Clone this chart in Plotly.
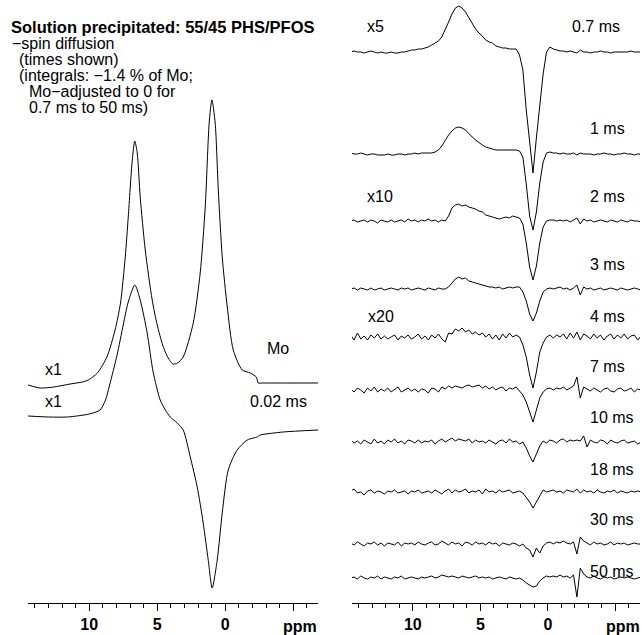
import plotly.graph_objects as go

# ---------------- Left panel data (ppm, intensity) ----------------
mo_ppm = [14.5, 13.6, 12.6, 11.4, 10.5, 10.07, 9.4, 8.7, 8.1, 7.7, 7.35, 7.13, 6.84, 6.65, 6.47,
          6.25, 5.88, 5.37, 5.0, 4.6, 4.27, 3.85, 3.5, 3.09, 2.35, 1.84, 1.47, 1.18, 0.98, 0.74,
          0.51, 0.22, -0.15, -0.59, -1.25, -1.84, -2.28, -2.43, -2.7, -4.5, -6.82]
mo_int = [-2, -5, -4, -1, 1, 3, 10, 26, 53, 80, 126, 166, 222, 242, 230,
          186, 133, 83, 58, 38, 27, 19, 20, 26, 60, 110, 176, 260, 283, 260,
          193, 126, 76, 33, 13, 10, 6, 0, 0, 0, 0]

p002_ppm = [14.5, 13.0, 11.6, 10.0, 9.2, 8.8, 8.5, 7.95, 7.5, 7.13, 6.65, 6.25, 5.74, 5.3,
            4.78, 4.4, 4.04, 3.53, 3.09, 2.57, 2.06, 1.62, 1.25, 0.96, 0.59, 0.22, -0.22,
            -0.88, -1.62, -2.35, -2.45, -2.57, -4.26, -6.82]
p002_int = [14, 13, 13, 16, 20, 30, 45, 75, 105, 128, 145, 130, 97, 58,
            30, 20, 13, 7, 0, -27, -57, -93, -130, -158, -130, -83, -40,
            -20, -10, -7, -6, -5, -2, 0]

left_names = ["Mo", "0.02 ms"]
left_offsets = [220, 173]

# ---------------- Right panel data (regular ppm grid) ----------------
grid_ppm = [round(14.6 - 0.25 * i, 2) for i in range(87)]

times = ["0.7 ms", "1 ms", "2 ms", "3 ms", "4 ms", "7 ms", "10 ms", "18 ms", "30 ms", "50 ms"]

s_07 = [0, 1, 0, 0, -1, 0, 1, 0, -1, 0,
        -1, -1, 0, -1, -1, 0, 0, 1, 2, 2,
        3, 3, 4, 5, 7, 9, 11, 15, 22, 30,
        38, 44, 46, 44, 40, 34, 28, 23, 19, 16,
        12, 10, 9, 6, 5, 4, 4, 3, 3, 3,
        -3, -18, -58, -93, -121, -86, -56, -22, 0, 5,
        3, 2, 1, 1, 0, 1, 0, -1, 2, 0,
        0, -1, 0, 0, 1, 0, 0, -1, 0, 0,
        0, 0, 0, 1, 0, 0, 0]
s_1 = [1, 0, 0, 1, 0, -1, 0, 0, -1, -1,
       -1, 0, -1, -1, 0, 0, -1, 0, 0, 1,
       0, 1, 1, 1, 1, 2, 4, 8, 14, 19,
       23, 26, 27, 26, 24, 21, 17, 14, 11, 9,
       7, 6, 5, 4, 4, 4, 4, 4, 4, 4,
       3, -3, -30, -62, -76, -58, -29, -8, 1, 2,
       1, 1, 0, 1, 0, 0, 1, -1, 1, 0,
       0, 0, -1, 0, 0, 1, 0, 0, -1, 0,
       0, 1, 0, 0, -1, 0, 0]
s_2 = [0, 1, -1, 0, 1, -1, 1, 0, -2, 1,
       0, -1, 1, -1, 0, 1, -1, 2, 0, 1,
       -1, 1, 0, 2, 0, 1, -1, 1, 0, 5,
       13, 16, 17, 15, 16, 14, 13, 12, 10, 9,
       6, 5, 4, 3, 2, 3, 4, 3, 5, 4,
       3, -3, -22, -46, -59, -45, -22, -6, 0, 1,
       1, 0, 1, 0, 1, -1, 1, 3, -3, 2,
       0, 1, -1, 0, 1, 0, -1, 1, 0, -1,
       1, 0, -1, 1, 0, 0, -1]
s_3 = [0, 1, -1, 1, 0, -1, 1, -1, 0, 1,
       -1, 0, 1, 0, -1, 1, 0, 1, -1, 0,
       1, 0, -1, 1, 0, -1, 1, 0, 0, 2,
       6, 10, 12, 10, 11, 8, 7, 6, 5, 4,
       3, 2, 2, 1, 2, 0, 1, 2, 1, 2,
       2, -3, -12, -25, -32, -24, -12, -3, 0, 1,
       0, 1, 2, 0, 1, -1, 1, 4, -6, 2,
       0, 1, -1, 0, 1, -1, 0, 1, 0, -1,
       1, 0, -1, 0, 1, 0, -1]
s_4 = [2, -3, 4, -2, 1, -3, 2, -1, 3, -2,
       1, -2, 0, 2, -3, 1, -1, 2, -2, 0,
       3, -2, 1, -3, 2, -1, 3, -2, -5, 4,
       3, 8, 6, 9, 5, 7, 3, 5, 2, 4,
       0, 3, -2, 2, -3, 3, -1, 4, 0, 2,
       0, -8, -20, -38, -51, -35, -15, -6, 0, 2,
       -1, 2, 0, 3, -2, 4, -1, 5, -3, 3,
       1, -2, 3, -1, 2, -3, 1, 3, -2, 2,
       -1, 3, -2, 1, 2, -3, 1]
s_7 = [1, -2, 2, 0, -3, 2, -1, 3, -2, 1,
       -1, 2, -2, 1, 3, -2, 0, 2, -1, 1,
       -2, 1, 0, -3, 2, 1, -2, 3, 1, 4,
       2, 4, 3, 2, 4, 5, 3, 4, 5, 2,
       4, 1, 3, 0, 2, 3, -1, 2, 1, 3,
       -1, -5, -12, -22, -32, -20, -8, -2, 1, 2,
       0, 2, 1, 3, 0, 2, 4, 13, -8, 3,
       1, -1, 2, 0, -2, 1, 2, -1, -2, 1,
       2, -1, 0, 2, -2, 1, 0]
s_10 = [2, -1, 1, -2, 2, 0, -2, 3, -1, 1,
        -2, 2, 0, 3, -1, 1, -2, 2, 1, -1,
        2, -1, 1, 0, 2, -2, 1, 3, 0, 2,
        4, 1, 3, 2, 1, 3, -1, 2, 0, 1,
        -1, 2, 0, -2, 1, 2, -1, 3, 0, 1,
        -2, 0, -6, -14, -20, -12, -4, 1, -1, 2,
        1, -1, 2, 3, 0, 2, 1, 2, 1, 6,
        -5, 2, 0, -1, 2, 1, -2, 2, 0, -1,
        1, 2, -1, 0, 1, -2, 0]
s_18 = [1, 3, -1, 0, -3, 1, 2, -1, 1, 0,
        -2, 1, 0, 2, -1, 0, 1, -2, 1, 0,
        2, -1, 0, 1, -1, 2, 0, -2, 1, 3,
        -1, 2, 0, 1, 3, -1, 1, 0, 2, -2,
        3, 0, 1, -1, 2, 0, 1, 2, -1, 0,
        1, -1, -5, -10, -16, -10, -3, 2, 0, 1,
        2, 0, 1, -1, 2, 1, 0, 3, -1, 2,
        0, 1, -1, 2, 0, -1, 1, 0, 2, -1,
        1, 0, -1, 1, 0, 1, 0]
s_30 = [1, -1, 2, 0, -2, 1, 0, 2, -1, 1,
        -2, 1, 0, -1, 2, -2, 1, 0, 1, -1,
        2, 0, -1, 1, 2, -1, 0, 3, 1, -1,
        2, 0, 1, -2, 2, 1, -1, 2, 0, 1,
        -1, 2, 0, 1, -2, 1, 0, -1, 1, 0,
        -2, 0, -4, -6, -13, -4, -9, -2, 1, 2,
        0, 2, 1, 3, 1, 0, 2, -10, 7, 3,
        1, -1, 2, 0, 1, -1, 0, 2, -1, 1,
        0, 1, -1, 0, 1, 0, 0]
s_50 = [0, 1, -1, 2, 0, -1, 1, 0, 2, -1,
        1, 0, -1, 1, 0, 2, -1, 0, 1, 0,
        -1, 1, 0, 1, 2, 0, 1, 3, 2, 1,
        2, 1, 0, 2, 1, 0, 1, 2, 0, 1,
        0, 1, -1, 0, 1, 0, -1, 1, 0, -1,
        0, -2, -5, -7, -9, -8, -3, 0, 2, 1,
        2, 1, 3, 1, 2, 0, 3, -19, 10, 4,
        1, 0, 2, 0, -1, 1, 0, 1, -1, 0,
        1, 0, 1, 0, -1, 0, 1]

right_series = [s_07, s_1, s_2, s_3, s_4, s_7, s_10, s_18, s_30, s_50]
right_offsets = [551, 449, 382, 314, 266, 213, 161, 111, 59, 25]

# ---------------- Figure ----------------
W, H = 642, 635
PLOT_BOTTOM = 603
FONT = "Liberation Sans, Arial, sans-serif"
LINE = dict(color="black", width=1)

fig = go.Figure()

for ppm, vals, off in [(mo_ppm, mo_int, left_offsets[0]), (p002_ppm, p002_int, left_offsets[1])]:
    fig.add_trace(go.Scatter(x=ppm, y=[v + off for v in vals], mode="lines",
                             line=dict(color="black", width=1, shape="spline", smoothing=0.7),
                             xaxis="x", yaxis="y", hoverinfo="skip"))

for vals, off in zip(right_series, right_offsets):
    fig.add_trace(go.Scatter(x=grid_ppm, y=[v + off for v in vals], mode="lines",
                             line=LINE, xaxis="x2", yaxis="y2", hoverinfo="skip"))

minor_vals = [v for v in range(14, -7, -1) if v % 5 != 0]

def xaxis_cfg(domain, anchor):
    return dict(domain=domain, anchor=anchor, range=[14.5, -6.82], showgrid=False, zeroline=False,
                showline=True, linecolor="black", linewidth=1.3,
                ticks="outside", ticklen=7, tickwidth=1, tickcolor="black",
                tickmode="array", tickvals=[10, 5, 0, -5], ticktext=["10", "5", "0", ""],
                tickfont=dict(family=FONT, size=16, color="black", weight="bold"),
                minor=dict(tickmode="array", tickvals=minor_vals, ticks="outside",
                           ticklen=4, tickwidth=1, tickcolor="black"))

fig.update_layout(
    width=W, height=H, margin=dict(l=0, r=0, t=0, b=H - PLOT_BOTTOM),
    paper_bgcolor="white", plot_bgcolor="white", showlegend=False,
    xaxis=xaxis_cfg([28 / W, 318 / W], "y"),
    xaxis2=xaxis_cfg([352 / W, 640 / W], "y2"),
    yaxis=dict(domain=[0, 1], range=[0, PLOT_BOTTOM], visible=False, fixedrange=True),
    yaxis2=dict(domain=[0, 1], range=[0, PLOT_BOTTOM], visible=False, anchor="x2", fixedrange=True),
)

def ann(text, px, py, size=16, bold=False, xanchor="left"):
    fig.add_annotation(text=text, x=px / W, y=(PLOT_BOTTOM - py) / PLOT_BOTTOM,
                       xref="paper", yref="paper", xanchor=xanchor, yanchor="middle",
                       showarrow=False, borderpad=0,
                       font=dict(family=FONT, size=size, color="black",
                                 weight="bold" if bold else "normal"))

# header text block
ann("Solution precipitated: 55/45 PHS/PFOS", 10, 27, size=16.5, bold=True)
header_lines = [("\u2212spin diffusion", 11, 43), ("(times shown)", 18, 59),
                ("(integrals: \u22121.4 % of Mo;", 18, 75.5), ("Mo\u2212adjusted to 0 for", 28, 91.5),
                ("0.7 ms to 50 ms)", 28, 108)]
for t, x, y in header_lines:
    ann(t, x, y, size=16)

# left labels
ann("x1", 44, 369)
ann("x1", 44, 401)
ann("Mo", 266, 349)
ann("0.02 ms", 249, 401)

# right labels
ann("x5", 366, 26)
ann("x10", 366, 197)
ann("x20", 367, 316)
right_label_pos = [(571, 26), (589, 128), (589, 197), (589, 264), (589, 316), (589, 366),
                   (589, 417), (589, 469), (589, 519), (589, 571)]
for t, (x, y) in zip(times, right_label_pos):
    ann(t, x, y)

# axis unit labels
ann("ppm", 300, 626, bold=True, xanchor="center")
ann("ppm", 623, 626, bold=True, xanchor="center")

fig.write_html("out.html", config={"displayModeBar": False},
               post_script="document.body.style.margin='0';document.body.style.overflow='hidden';")
